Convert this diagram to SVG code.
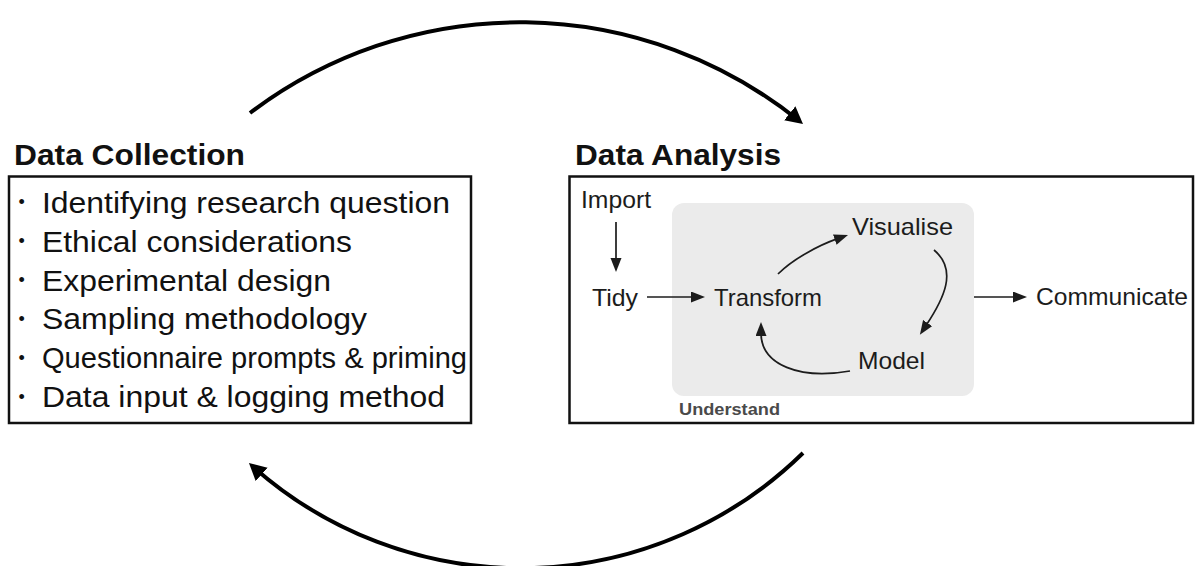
<svg xmlns="http://www.w3.org/2000/svg" width="1195" height="566" viewBox="0 0 1195 566">
<defs>
<style>
text{font-family:"Liberation Sans",Arial,Helvetica,sans-serif;}
.title{font-size:29px;font-weight:bold;fill:#111;}
.item{font-size:29px;fill:#111;}
.bul{font-size:18px;fill:#111;}
.lbl{font-size:24px;fill:#1c1c1c;}
.und{font-size:17px;font-weight:bold;fill:#4a4a4a;}
.box{fill:#fff;stroke:#111;stroke-width:2.5;}
.big{fill:none;stroke:#000;stroke-width:4;}
.thin{fill:none;stroke:#1c1c1c;stroke-width:1.7;}
</style>
<marker id="bigHead" markerUnits="userSpaceOnUse" markerWidth="20" markerHeight="20" refX="12" refY="9" orient="auto">
<path d="M0,0 L17,9 L0,18 z" fill="#000"/>
</marker>
<marker id="smallHead" markerUnits="userSpaceOnUse" markerWidth="16" markerHeight="12" refX="3" refY="5.5" orient="auto">
<path d="M0,0 L14,5.5 L0,11 z" fill="#1c1c1c"/>
</marker>
</defs>
<rect width="1195" height="566" fill="#fff"/>

<g id="data-collection">
<text class="title" x="14" y="164.5" textLength="231" lengthAdjust="spacingAndGlyphs">Data Collection</text>
<rect class="box" x="9" y="176.5" width="462" height="246.5"/>
<text class="bul" x="21.7" y="208.2" text-anchor="middle">•</text>
<text class="item" x="42" y="212.7" textLength="408" lengthAdjust="spacingAndGlyphs">Identifying research question</text>
<text class="bul" x="21.7" y="247.1" text-anchor="middle">•</text>
<text class="item" x="42" y="251.6" textLength="310" lengthAdjust="spacingAndGlyphs">Ethical considerations</text>
<text class="bul" x="21.7" y="286" text-anchor="middle">•</text>
<text class="item" x="42" y="290.5" textLength="289" lengthAdjust="spacingAndGlyphs">Experimental design</text>
<text class="bul" x="21.7" y="324.9" text-anchor="middle">•</text>
<text class="item" x="42" y="329.4" textLength="325" lengthAdjust="spacingAndGlyphs">Sampling methodology</text>
<text class="bul" x="21.7" y="363.8" text-anchor="middle">•</text>
<text class="item" x="42" y="368.3" textLength="425" lengthAdjust="spacingAndGlyphs">Questionnaire prompts &amp; priming</text>
<text class="bul" x="21.7" y="402.7" text-anchor="middle">•</text>
<text class="item" x="42" y="407.2" textLength="403" lengthAdjust="spacingAndGlyphs">Data input &amp; logging method</text>
</g>

<g id="data-analysis">
<text class="title" x="575" y="165" textLength="206" lengthAdjust="spacingAndGlyphs">Data Analysis</text>
<rect class="box" x="569.5" y="176.5" width="623.5" height="246.5"/>
</g>

<g id="understand">
<rect x="672" y="203" width="302" height="193" rx="12" ry="12" fill="#ebebeb"/>
<text class="und" x="679" y="415" textLength="101" lengthAdjust="spacingAndGlyphs">Understand</text>
</g>

<g id="import"><text class="lbl" x="581" y="208" textLength="70" lengthAdjust="spacingAndGlyphs">Import</text></g>
<g id="tidy"><text class="lbl" x="592" y="306" textLength="46" lengthAdjust="spacingAndGlyphs">Tidy</text></g>
<g id="transform"><text class="lbl" x="714" y="306" textLength="108" lengthAdjust="spacingAndGlyphs">Transform</text></g>
<g id="visualise"><text class="lbl" x="852" y="235" textLength="101" lengthAdjust="spacingAndGlyphs">Visualise</text></g>
<g id="model"><text class="lbl" x="858" y="369" textLength="67" lengthAdjust="spacingAndGlyphs">Model</text></g>
<g id="communicate"><text class="lbl" x="1036" y="305" textLength="152" lengthAdjust="spacingAndGlyphs">Communicate</text></g>

<g id="connectors">
<path class="big" d="M250,113 A446,446 0 0 1 799.1,120.8" marker-end="url(#bigHead)"/>
<path class="big" d="M803,453 A403.5,403.5 0 0 1 252.7,466.4" marker-end="url(#bigHead)"/>
<path class="thin" d="M616,222 L616,261" marker-end="url(#smallHead)"/>
<path class="thin" d="M647,297 L694,297" marker-end="url(#smallHead)"/>
<path class="thin" d="M974,297 L1016,297" marker-end="url(#smallHead)"/>
<path class="thin" d="M778,274 C793,259 818.7,245.2 837.6,238.6" marker-end="url(#smallHead)"/>
<path class="thin" d="M934,250 C958,270 944,298.5 926,325.5" marker-end="url(#smallHead)"/>
<path class="thin" d="M850,371 C800,380 761,365 761,333" marker-end="url(#smallHead)"/>
</g>
</svg>
